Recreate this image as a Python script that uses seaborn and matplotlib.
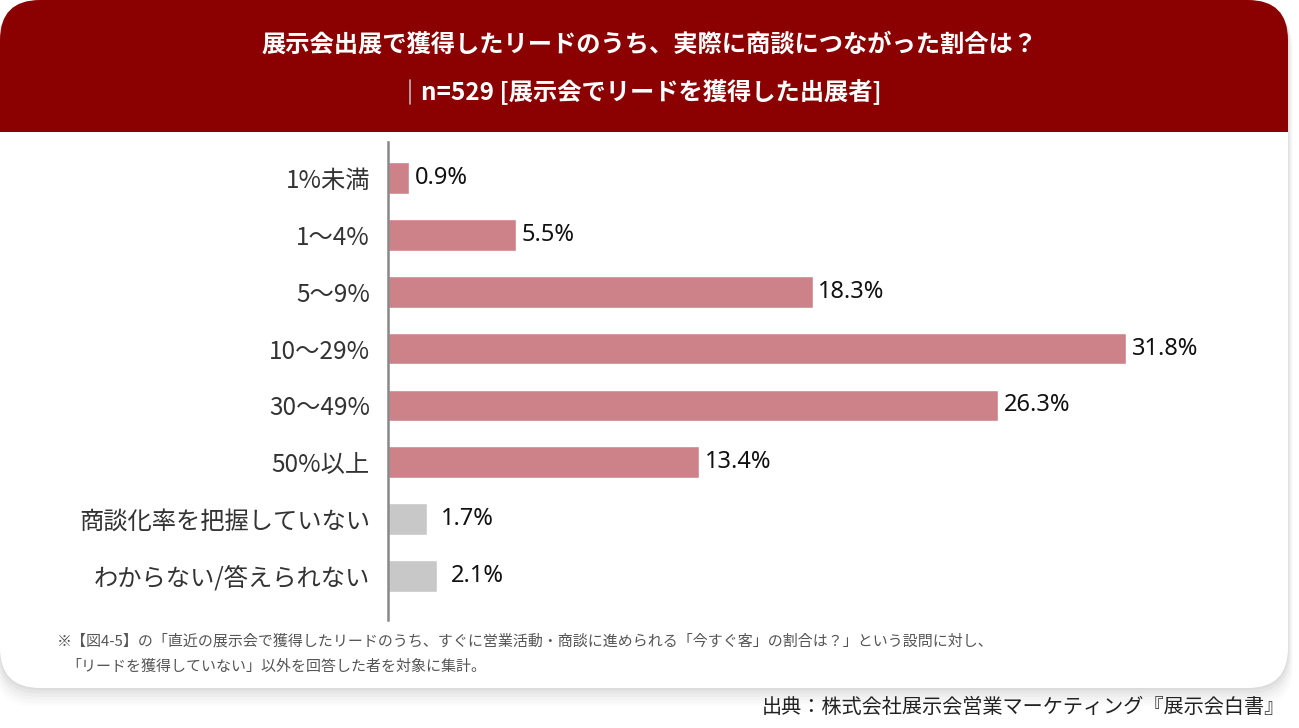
import matplotlib
matplotlib.use("Agg")
import matplotlib.pyplot as plt
from matplotlib.patches import FancyBboxPatch, Rectangle
import seaborn as sns
import pandas as pd

categories = ["1%未満", "1〜4%", "5〜9%", "10〜29%", "30〜49%", "50%以上",
              "商談化率を把握していない", "わからない/答えられない"]
values = [0.9, 5.5, 18.3, 31.8, 26.3, 13.4, 1.7, 2.1]
bar_colors = ["#cd828a"] * 6 + ["#c8c8c8"] * 2
value_labels = ["0.9%", "5.5%", "18.3%", "31.8%", "26.3%", "13.4%", "1.7%", "2.1%"]

title1 = "展示会出展で獲得したリードのうち、実際に商談につながった割合は？"
title2 = "n=529 [展示会でリードを獲得した出展者]"
note1 = "※【図4-5】の「直近の展示会で獲得したリードのうち、すぐに営業活動・商談に進められる「今すぐ客」の割合は？」という設問に対し、"
note2 = "「リードを獲得していない」以外を回答した者を対象に集計。"
source = "出典：株式会社展示会営業マーケティング『展示会白書』"

sns.set_theme(style="white")
plt.rcParams["font.family"] = ["Noto Sans CJK JP", "DejaVu Sans"]

W, H = 1299, 728
fig = plt.figure(figsize=(W / 100, H / 100), dpi=100)
fig.patch.set_facecolor("white")

# background layer in pixel coordinates
bg = fig.add_axes([0, 0, 1, 1], zorder=0)
bg.set_xlim(0, W)
bg.set_ylim(H, 0)
bg.axis("off")

# shadow
for i, a in enumerate([0.035, 0.03, 0.025, 0.02, 0.015, 0.01]):
    off = 2 + i * 3
    bg.add_patch(FancyBboxPatch((0 - off * 0.3, 0 + off * 0.6), 1288 + off * 0.6, 688 + off * 0.5,
                                boxstyle="round,pad=0,rounding_size=40",
                                fc="black", ec="none", alpha=a))
# card
bg.add_patch(FancyBboxPatch((0, 0), 1288, 688, boxstyle="round,pad=0,rounding_size=40",
                            fc="white", ec="none"))
# header
bg.add_patch(FancyBboxPatch((0, 0), 1288, 175, boxstyle="round,pad=0,rounding_size=40",
                            fc="#8b0000", ec="none"))
bg.add_patch(Rectangle((0, 132), 1288, 50, fc="white", ec="none"))

bg.text(650, 45, title1, ha="center", va="center", color="white",
        fontsize=17.5, fontweight="bold")
bg.text(421, 92, title2, ha="left", va="center", color="white",
        fontsize=17.5, fontweight="bold")
bg.plot([410, 410], [80, 104], color="#bbbbbb", lw=1.2)

bg.text(57, 641, note1, ha="left", va="center", color="#555555", fontsize=10.8)
bg.text(66, 667, note2, ha="left", va="center", color="#555555", fontsize=10.8)
bg.text(1285, 707, source, ha="right", va="center", color="#222222", fontsize=14.5)

# chart axes: x from px 388 to 1250, y from px 142 to 620
left, right, top, bottom = 388, 1250, 142, 620
ax = fig.add_axes([left / W, 1 - bottom / H, (right - left) / W, (bottom - top) / H], zorder=1)
ax.patch.set_alpha(0)

df = pd.DataFrame({"cat": categories, "val": values})
sns.barplot(data=df, x="val", y="cat", hue="cat", palette=bar_colors, orient="h",
            width=0.56, legend=False, ax=ax, saturation=1)

px_per_unit = 23.2
ax.set_xlim(0, (right - left) / px_per_unit)
ax.set_ylim(7.774, -0.633)

for i, (v, lab) in enumerate(zip(values, value_labels)):
    pad = 0.25 if i < 6 else 0.6
    ax.text(v + pad, i, lab, ha="left", va="center", fontsize=17,
            color="#111111", family=["Noto Sans", "DejaVu Sans"], fontweight="medium")

for s in ["top", "right", "bottom"]:
    ax.spines[s].set_visible(False)
ax.spines["left"].set_color("#888888")
ax.spines["left"].set_linewidth(1.8)
ax.set_xticks([])
ax.set_xlabel("")
ax.set_ylabel("")
ax.tick_params(axis="y", length=0, pad=13, labelsize=17.5, labelcolor="#333333")

fig.savefig("out.png", dpi=100)
